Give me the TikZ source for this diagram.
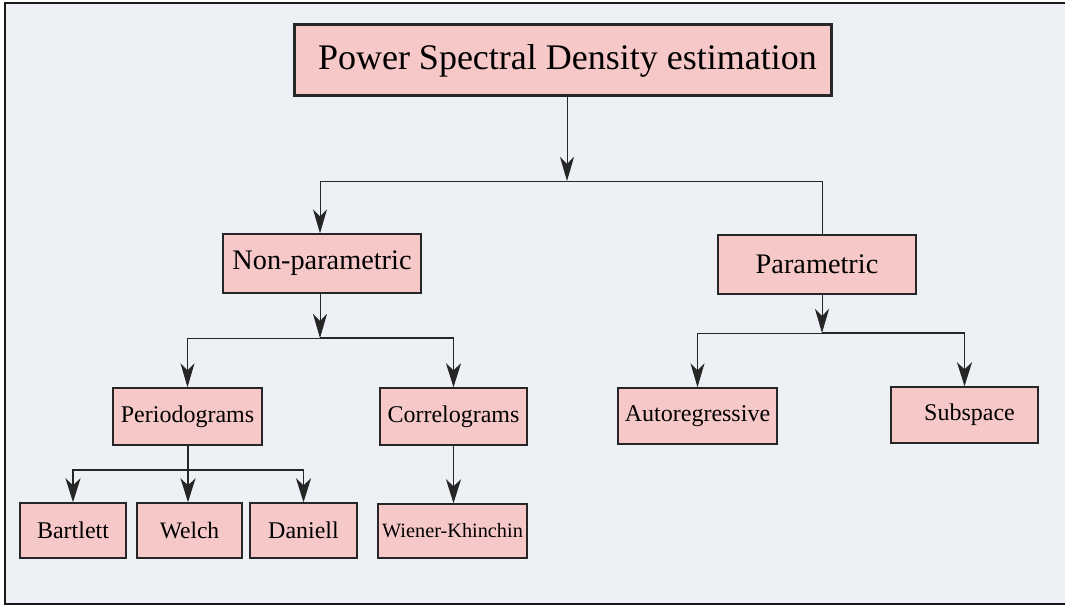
\documentclass[tikz,border=0pt]{standalone}
\usepackage{fontspec}
\setmainfont{Liberation Serif}
\usetikzlibrary{arrows.meta}
\definecolor{bgc}{RGB}{237,241,245}
\definecolor{boxc}{RGB}{247,200,200}
\tikzset{
  bx/.style={draw=black!85, fill=boxc, line width=1.4pt, inner sep=0pt},
  lvtop/.style={font=\fontsize{36}{40}\selectfont},
  lvtwo/.style={font=\fontsize{28.3}{32}\selectfont},
  lvthree/.style={font=\fontsize{24}{28}\selectfont},
  lvwk/.style={font=\fontsize{20.3}{24}\selectfont},
  conn/.style={line width=1pt, black!85},
  arr/.style={conn, -{Stealth[length=24pt,width=14pt,inset=7pt]}},
  arrbig/.style={line width=1.8pt, black!85, -{Stealth[length=24pt,width=15pt,inset=7pt]}}
}
\begin{document}
\begin{tikzpicture}[x=1pt,y=-1pt]
\useasboundingbox (0,0) rectangle (1065,607);
\fill[white] (0,0) rectangle (1065,607);
\fill[bgc] (5,3) rectangle (1068,604);
\draw[line width=2pt, black!90] (5,3) rectangle (1068,604);

\node[bx, line width=3pt, minimum width=537pt, minimum height=71pt, lvtop] (title) at (562.5,60.5) {\hspace{10pt}Power Spectral Density estimation};
\node[bx, minimum width=198pt, minimum height=59pt, lvtwo] (np) at (322,263.5) {Non-parametric};
\node[bx, minimum width=198pt, minimum height=59pt, lvtwo] (p) at (817,264.5) {Parametric};
\node[bx, minimum width=149pt, minimum height=57pt, lvthree] (per) at (187.5,416.5) {Periodograms};
\node[bx, minimum width=147pt, minimum height=57pt, lvthree] (cor) at (453.5,416.5) {Correlograms};
\node[bx, minimum width=159pt, minimum height=56pt, lvthree] (ar) at (697.5,416) {Autoregressive};
\node[bx, minimum width=147pt, minimum height=56pt, lvthree] (sub) at (964.5,415) {\hspace{10pt}Subspace};
\node[bx, minimum width=106pt, minimum height=55pt, lvthree] (bar) at (73,530.5) {Bartlett\hspace{12pt}};
\node[bx, minimum width=105pt, minimum height=55pt, font=\fontsize{23.5}{28}\selectfont] (wel) at (189.5,530.5) {Welch};
\node[bx, minimum width=107pt, minimum height=55pt, lvthree] (dan) at (303.5,530.5) {Daniell};
\node[bx, minimum width=149pt, minimum height=54pt, lvwk] (wk) at (452.5,531) {Wiener-Khinchin};

\coordinate (j1) at (567,181);
\coordinate (j2) at (320,338);
\coordinate (j3) at (822,333);
\coordinate (j4) at (188,470);

\draw[arr] (title.south -| j1) -- (j1);
\draw[arr] (j1) -| (np.north -| j2);
\draw[conn] (j1) -| (p.north -| j3);

\draw[arr] (np.south -| j2) -- (j2);
\draw[arr] (j2) -| (per.north);
\draw[arrbig] (j2) -| (cor.north);

\draw[arr] (p.south -| j3) -- (j3);
\draw[arr] (j3) -| (ar.north);
\draw[arrbig] (j3) -| (sub.north);

\draw[line width=1.8pt, black!85] (per.south -| j4) -- (j4);
\draw[arrbig] (j4) -- (wel.north -| j4);
\draw[arrbig] (j4) -| (bar.north);
\draw[arrbig] (j4) -| (dan.north);

\draw[arrbig] (cor.south) -- (cor.south |- wk.north);
\end{tikzpicture}
\end{document}
